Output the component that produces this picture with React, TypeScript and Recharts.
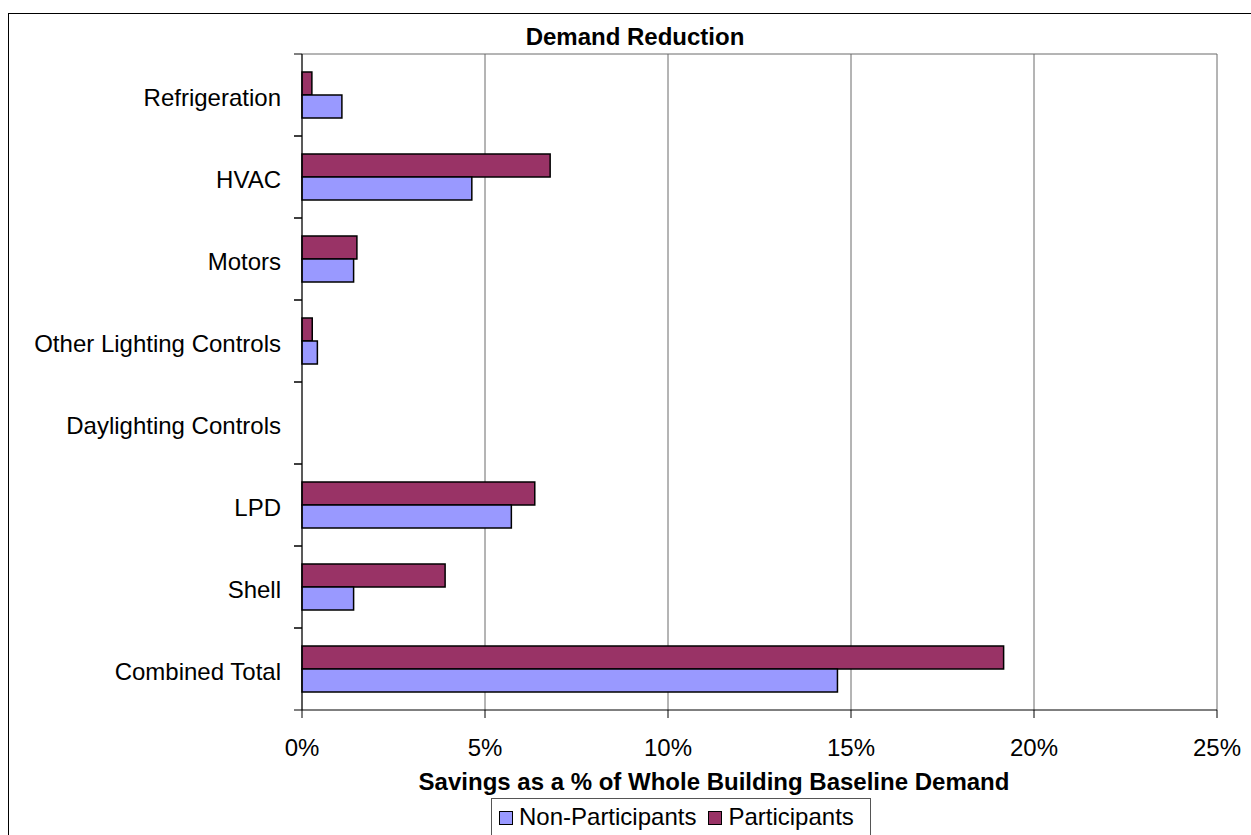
import React from 'react';
import { BarChart, Bar, XAxis, YAxis, CartesianGrid, Legend } from 'recharts';

const categories = [
  'Refrigeration',
  'HVAC',
  'Motors',
  'Other Lighting Controls',
  'Daylighting Controls',
  'LPD',
  'Shell',
  'Combined Total',
];
const participants = [0.27, 6.78, 1.5, 0.28, 0, 6.36, 3.91, 19.17];
const nonParticipants = [1.09, 4.64, 1.41, 0.42, 0, 5.72, 1.41, 14.63];
const xTicks = [0, 5, 10, 15, 20, 25];

const data = categories.map((name, i) => ({
  name,
  participants: participants[i],
  nonParticipants: nonParticipants[i],
}));

const FONT = 'Arial, "Liberation Sans", sans-serif';
const NON_PART_COLOR = '#9999FF';
const PART_COLOR = '#993366';
const LABEL_GAP = 21;

// category label plus the small tick marks on the band edges
const CategoryTick = (props: any) => {
  const { x, y, payload } = props;
  const half = payload && payload.offset ? payload.offset : 41;
  const axisX = x + LABEL_GAP;
  return (
    <g>
      <line x1={axisX - 8} x2={axisX} y1={y - half} y2={y - half} stroke="#000" />
      <line x1={axisX - 8} x2={axisX} y1={y + half} y2={y + half} stroke="#000" />
      <text x={x} y={y} dy="0.45em" textAnchor="end" fontSize={24} fill="#000" fontFamily={FONT}>
        {payload.value}
      </text>
    </g>
  );
};

const Swatch = ({ color }: { color: string }) => (
  <span
    style={{
      display: 'inline-block',
      width: 12,
      height: 12,
      background: color,
      border: '1px solid #000',
      marginRight: 6,
    }}
  />
);

const renderLegend = () => (
  <div
    style={{
      border: '1px solid #555',
      background: '#fff',
      height: 40,
      boxSizing: 'border-box',
      padding: '4px 0 0 7px',
      fontFamily: FONT,
      fontSize: 24,
      color: '#000',
      whiteSpace: 'nowrap',
      lineHeight: '28px',
    }}
  >
    <Swatch color={NON_PART_COLOR} />
    <span style={{ marginRight: 12 }}>Non-Participants</span>
    <Swatch color={PART_COLOR} />
    <span>Participants</span>
  </div>
);

export default function App() {
  return (
    <div style={{ position: 'absolute', left: 0, top: 0, width: 1251, height: 835, overflow: 'hidden', background: '#fff' }}>
      <div
        style={{
          position: 'absolute',
          left: 8,
          top: 13,
          width: 1243,
          height: 822,
          borderLeft: '1px solid #000',
          borderTop: '1px solid #000',
          boxSizing: 'border-box',
        }}
      />
      <div style={{ position: 'absolute', left: 0, top: 0 }}>
        <BarChart
          width={1251}
          height={835}
          data={data}
          layout="vertical"
          margin={{ top: 54, right: 34, bottom: 85, left: 12 }}
          barCategoryGap="22%"
          barGap={0}
        >
          <CartesianGrid
            stroke="#6a6a6a"
            horizontalCoordinatesGenerator={({ offset }: any) => [offset.top]}
          />
          <XAxis
            type="number"
            domain={[0, 25]}
            ticks={xTicks}
            tickFormatter={(v: number) => `${v}%`}
            height={40}
            axisLine={{ stroke: '#000' }}
            tickLine={{ stroke: '#000' }}
            tickSize={8}
            tickMargin={21}
            tick={{ fill: '#000', fontSize: 24, fontFamily: FONT }}
          />
          <YAxis
            type="category"
            dataKey="name"
            width={290}
            axisLine={{ stroke: '#000' }}
            tickLine={false}
            tickSize={0}
            tickMargin={LABEL_GAP}
            interval={0}
            tick={<CategoryTick />}
          />
          <Bar
            dataKey="participants"
            name="Participants"
            fill={PART_COLOR}
            stroke="#000"
            strokeWidth={1.5}
            isAnimationActive={false}
          />
          <Bar
            dataKey="nonParticipants"
            name="Non-Participants"
            fill={NON_PART_COLOR}
            stroke="#000"
            strokeWidth={1.5}
            isAnimationActive={false}
          />
          <Legend
            layout="horizontal"
            verticalAlign="middle"
            align="center"
            content={renderLegend}
            wrapperStyle={{ left: 491, top: 798, width: 380 }}
          />
        </BarChart>
      </div>
      <svg
        width={1251}
        height={835}
        style={{ position: 'absolute', left: 0, top: 0, pointerEvents: 'none' }}
      >
        <text x={635} y={45} textAnchor="middle" fontSize={24} fontWeight="bold" fontFamily={FONT} fill="#000">
          Demand Reduction
        </text>
        <text x={714} y={790} textAnchor="middle" fontSize={24} fontWeight="bold" fontFamily={FONT} fill="#000">
          Savings as a % of Whole Building Baseline Demand
        </text>
      </svg>
    </div>
  );
}
